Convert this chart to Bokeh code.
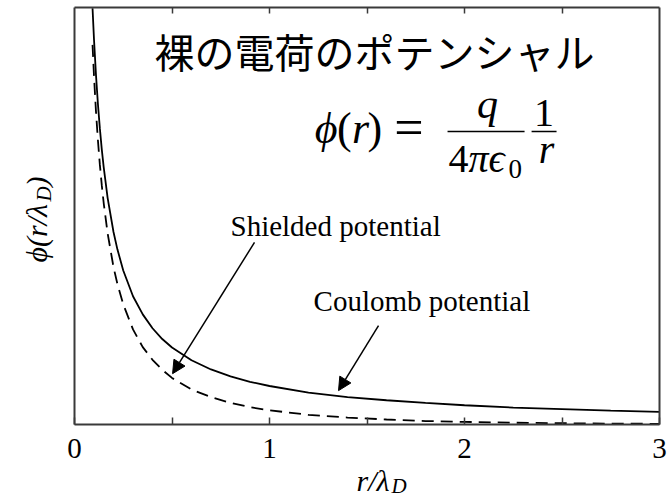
from bokeh.plotting import figure
from bokeh.models import (Label, Arrow, NormalHead, LinearAxis, FixedTicker, Range1d,
                          CustomLabelingPolicy)
from bokeh.embed import file_html
from bokeh.resources import INLINE

# r / lambda_D sample positions along the curves
r_values = [0.0925, 0.10, 0.11, 0.12, 0.13, 0.14, 0.15, 0.17, 0.20, 0.22, 0.25,
            0.30, 0.35, 0.40, 0.45, 0.50, 0.60, 0.70, 0.80, 0.90, 1.00,
            1.20, 1.40, 1.60, 1.80, 2.00, 2.25, 2.50, 2.75, 3.00]

# bare Coulomb potential (solid)
coulomb = [10.81, 10.0, 9.09, 8.33, 7.69, 7.14, 6.67, 5.88, 5.00, 4.55, 4.00,
           3.33, 2.86, 2.50, 2.22, 2.00, 1.67, 1.43, 1.25, 1.11, 1.00,
           0.83, 0.71, 0.63, 0.56, 0.50, 0.44, 0.40, 0.36, 0.33]

# Debye-shielded potential (dashed)
shielded = [9.86, 9.05, 8.14, 7.39, 6.75, 6.21, 5.74, 4.96, 4.09, 3.65, 3.12,
            2.47, 2.01, 1.68, 1.42, 1.21, 0.91, 0.71, 0.56, 0.45, 0.37,
            0.25, 0.18, 0.13, 0.09, 0.068, 0.047, 0.033, 0.023, 0.017]

x_major_ticks = [0, 1, 2, 3]
x_minor_ticks = [0.5, 1.5, 2.5]
top_ticks = [0.5, 1, 1.5, 2, 2.5]

# extent of the boxed plotting area
x_lo, x_hi = 0, 3
y_lo, y_hi = 0, 10.83

title_text = "裸の電荷のポテンシャル"
shielded_label = "Shielded potential"
coulomb_label = "Coulomb potential"

SERIF = "Liberation Serif"
FRAME = "#3a3a3a"

# The frame spans the whole canvas; the box and its axes sit at fixed data
# locations so that the axis titles can live inside the frame.
p = figure(width=671, height=500,
           x_range=Range1d(-0.3795, 3.0615), y_range=Range1d(-1.974, 11.013),
           x_axis_location=None, y_axis_location=None,
           output_backend="svg", toolbar_location=None,
           min_border_left=0, min_border_right=0, min_border_top=0, min_border_bottom=0)
p.background_fill_color = "white"
p.border_fill_color = "white"
p.outline_line_color = None
p.grid.visible = False

no_labels = CustomLabelingPolicy(code="""
    for (const i of Array.from(indices)) indices.unset(i)
    return indices
""")

def bare_axis(**kw):
    return LinearAxis(axis_line_color=FRAME, axis_line_width=2,
                      major_tick_line_color=FRAME, major_tick_line_width=1.5,
                      minor_tick_line_color=FRAME, minor_tick_line_width=1.5, **kw)

# bottom axis: labelled integers, inward ticks every 0.5
bottom = bare_axis(fixed_location=y_lo, bounds=(x_lo, x_hi),
                   ticker=FixedTicker(ticks=x_major_ticks, minor_ticks=x_minor_ticks),
                   major_tick_in=7, major_tick_out=0, minor_tick_in=7, minor_tick_out=0,
                   major_label_text_font=SERIF, major_label_text_font_size="29px",
                   major_label_text_color="black", major_label_standoff=14)
p.add_layout(bottom, "below")

# top axis: mirrored inward ticks, no labels
top = bare_axis(fixed_location=y_hi, bounds=(x_lo, x_hi),
                ticker=FixedTicker(ticks=top_ticks), major_label_policy=no_labels,
                major_tick_in=6, major_tick_out=0, minor_tick_in=0, minor_tick_out=0)
p.add_layout(top, "above")

# left and right sides of the box: plain lines
for loc, side in ((x_lo, "left"), (x_hi, "right")):
    ax = bare_axis(fixed_location=loc, bounds=(y_lo, y_hi), ticker=FixedTicker(ticks=[]),
                   major_tick_in=0, major_tick_out=0, minor_tick_in=0, minor_tick_out=0)
    p.add_layout(ax, side)

# curves
p.line(r_values, coulomb, line_color="black", line_width=1.8)
p.line(r_values, shielded, line_color="black", line_width=1.8, line_dash="12 7")

# curve annotations
p.add_layout(Label(x=0.80, y=4.75, text=shielded_label, text_font=SERIF,
                   text_font_size="29px", text_color="black"))
p.add_layout(Label(x=1.226, y=2.80, text=coulomb_label, text_font=SERIF,
                   text_font_size="29px", text_color="black"))
head = dict(size=13, fill_color="black", line_color="black")
p.add_layout(Arrow(end=NormalHead(**head), x_start=0.923, y_start=4.73,
                   x_end=0.503, y_end=1.32, line_width=1.5))
p.add_layout(Arrow(end=NormalHead(**head), x_start=1.559, y_start=2.57,
                   x_end=1.354, y_end=0.88, line_width=1.5))

# heading
p.add_layout(Label(x=0.41, y=9.69, text=title_text, text_font="Noto Sans CJK JP",
                   text_font_size="40px", text_baseline="middle", text_color="black"))

# formula phi(r) = q / (4 pi eps0) * 1 / r
def mtext(x, y, t, size="40px", style="normal", align="center", angle=0.0):
    p.add_layout(Label(x=x, y=y, text=t, text_font=SERIF, text_font_size=size,
                       text_font_style=style, text_align=align, angle=angle,
                       text_baseline="middle", text_color="black"))

mtext(1.290, 7.70, "ϕ", size="44px", style="italic")
mtext(1.384, 7.70, "(", size="44px")
mtext(1.467, 7.70, "r", size="44px", style="italic")
mtext(1.540, 7.70, ")", size="44px")
mtext(1.715, 7.72, "=", size="52px")
mtext(2.118, 8.32, "q", size="42px", style="italic")
mtext(1.918, 6.90, "4", align="left")
mtext(2.020, 6.90, "πϵ", style="italic", align="left")
mtext(2.225, 6.63, "0", size="27px", align="left")
mtext(2.408, 8.10, "1")
mtext(2.421, 7.13, "r", style="italic")
p.add_layout(Arrow(end=None, x_start=1.913, y_start=7.61, x_end=2.308, y_end=7.61,
                   line_width=1.6, line_color="black"))
p.add_layout(Arrow(end=None, x_start=2.344, y_start=7.61, x_end=2.472, y_end=7.61,
                   line_width=1.6, line_color="black"))

# axis titles with subscripts
mtext(1.446, -1.45, "r/λ", size="30px", style="italic", align="left")
mtext(1.626, -1.61, "D", size="21px", style="italic", align="left")
mtext(-0.195, 4.21, "ϕ(r/λ", size="30px", style="italic", align="left", angle=1.5708)
mtext(-0.154, 5.79, "D", size="21px", style="italic", align="left", angle=1.5708)
mtext(-0.195, 6.18, ")", size="30px", style="italic", align="left", angle=1.5708)

open("out.html", "w").write(file_html(p, INLINE))
